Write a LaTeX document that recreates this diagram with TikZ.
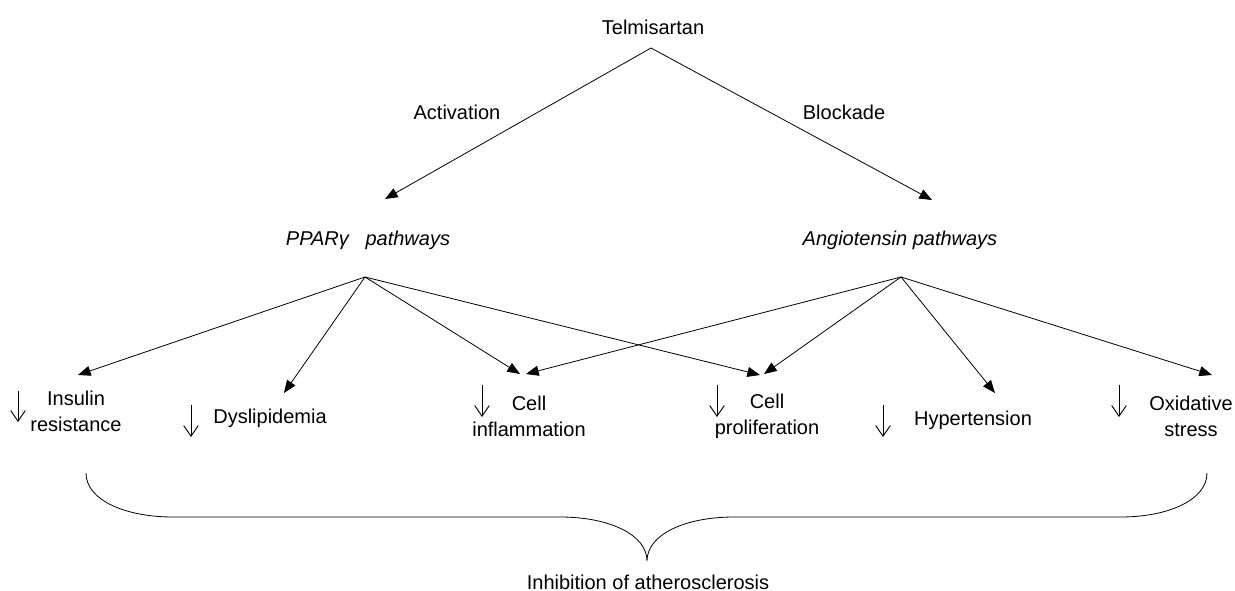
\documentclass[tikz,border=0pt]{standalone}
\usepackage{fontspec}
\setmainfont{Liberation Sans}
\usetikzlibrary{arrows.meta}
\begin{document}
\begin{tikzpicture}[x=0.75pt,y=-0.75pt,
  lbl/.style={font=\fontsize{15}{19.5}\selectfont, inner sep=0pt, align=center},
  ital/.style={lbl, font=\fontsize{15}{19.5}\selectfont\itshape},
  con/.style={line width=0.6pt, -{Triangle[length=9.5pt,width=7.5pt]}},
  dn/.style={line width=0.7pt, -{Straight Barb[length=8pt,width=11pt]}},
  brc/.style={line width=0.6pt}]
\useasboundingbox (0,0) rectangle (1235,591);
% nodes
\node[lbl] (tel) at (653,27) {Telmisartan};
\node[lbl] (act) at (457,112) {Activation};
\node[lbl] (blk) at (844,112) {Blockade};
\node[ital] (ppar) at (368,240) {PPARγ\ \ \ pathways};
\node[ital] (ang) at (900,240) {Angiotensin pathways};
\node[lbl] (ins) at (76,411) {Insulin\\resistance};
\node[lbl] (dys) at (270,418) {Dyslipidemia};
\node[lbl] (inf) at (529,416) {Cell\\inflammation};
\node[lbl] (pro) at (767,416) {Cell\\proliferation};
\node[lbl] (hyp) at (973,420) {Hypertension};
\node[lbl] (oxi) at (1191,416) {Oxidative\\stress};
\node[lbl] (inh) at (648,582) {Inhibition of atherosclerosis};
% connector points
\coordinate (apex) at (651,48);
\coordinate (pT) at (385,199);
\coordinate (aT) at (932,200);
\coordinate (pS) at (365,277);
\coordinate (aS) at (901,277);
\coordinate (tIns) at (78,375);
\coordinate (tDys) at (284,393);
\coordinate (tInfP) at (520,374);
\coordinate (tInfA) at (526,374);
\coordinate (tProP) at (760,375);
\coordinate (tProA) at (764,374);
\coordinate (tHyp) at (995,393);
\coordinate (tOxi) at (1212,375);
% top connectors
\draw[con] (apex) -- (pT);
\draw[con] (apex) -- (aT);
% PPAR fan
\draw[con] (pS) -- (tIns);
\draw[con] (pS) -- (tDys);
\draw[con] (pS) -- (tInfP);
\draw[con] (pS) -- (tProP);
% Angiotensin fan
\draw[con] (aS) -- (tInfA);
\draw[con] (aS) -- (tProA);
\draw[con] (aS) -- (tHyp);
\draw[con] (aS) -- (tOxi);
% down arrows
\draw[dn] (18,391) -- (18,422);
\draw[dn] (191,405) -- (191,437);
\draw[dn] (482,385) -- (482,417);
\draw[dn] (717,385) -- (717,417);
\draw[dn] (883,405) -- (883,437);
\draw[dn] (1119,385) -- (1119,417);
% brace
\draw[brc] (86,473) .. controls (86,500) and (125,517) .. (173,517) -- (560,517)
  .. controls (610,517) and (647,535) .. (647,561)
  .. controls (647,535) and (684,517) .. (734,517) -- (1121,517)
  .. controls (1168,517) and (1207,500) .. (1207,473);
\end{tikzpicture}
\end{document}
